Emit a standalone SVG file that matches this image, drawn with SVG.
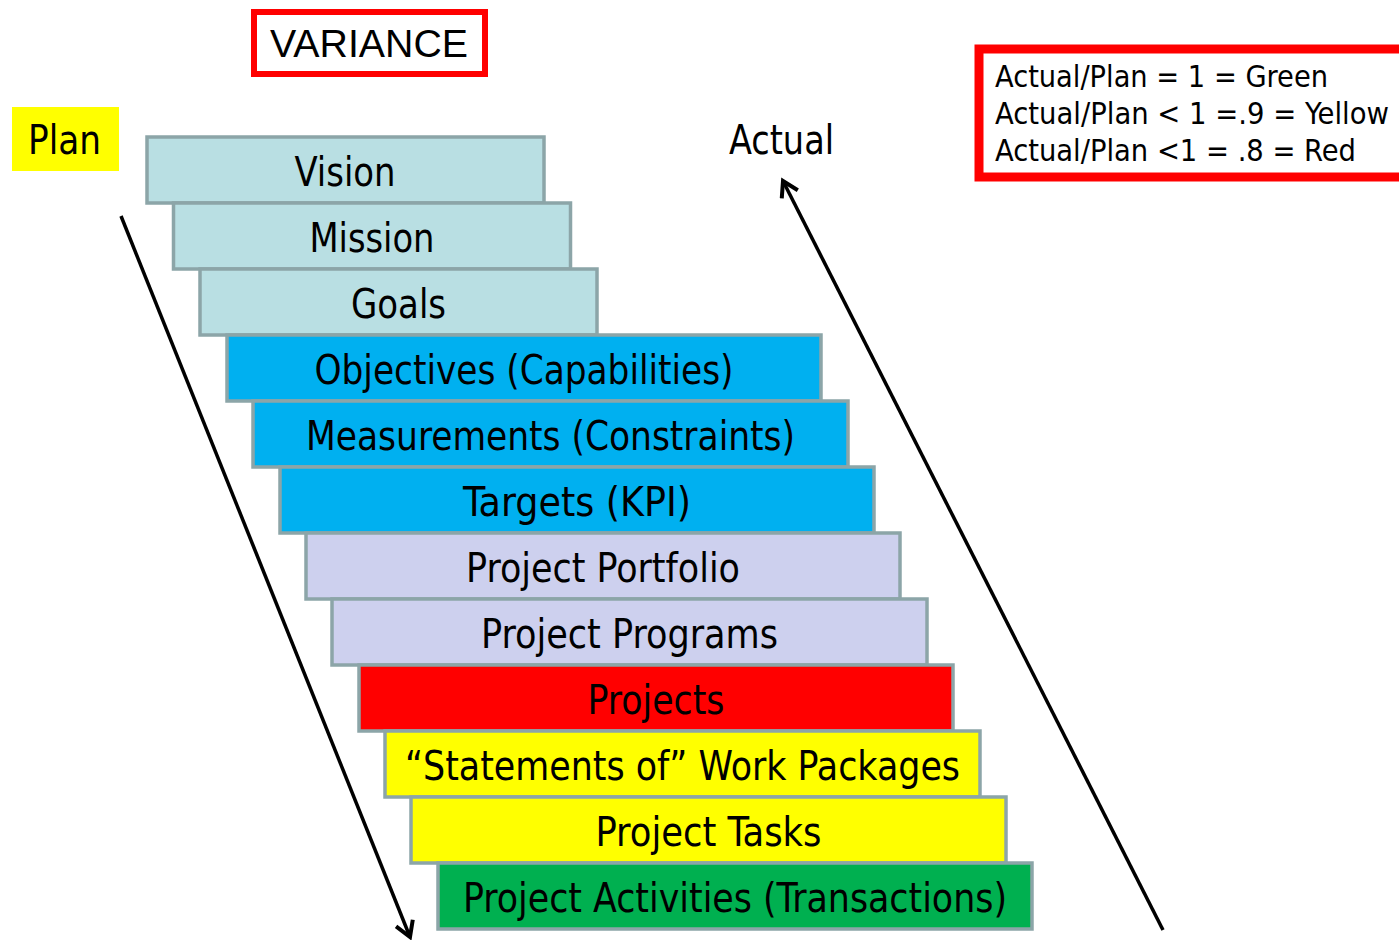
<svg xmlns="http://www.w3.org/2000/svg" width="1399" height="940" viewBox="0 0 1399 940">
<style>
.box{stroke:#8ca5a8;stroke-width:3.5}
.lbl{font-family:"DejaVu Sans Condensed","DejaVu Sans",sans-serif;font-size:40px;fill:#000;text-anchor:middle}
.leg{font-family:"DejaVu Sans Condensed","DejaVu Sans",sans-serif;font-size:31px;fill:#000}
.teal{fill:#b9dfe3}.cyan{fill:#00b0f0}.lav{fill:#cdd0ee}.red{fill:#ff0000}.yel{fill:#ffff00}.grn{fill:#00b050}
.arr{stroke:#000;stroke-width:3.5;fill:none}
</style>
<defs>
<marker id="chev" markerWidth="22" markerHeight="22" refX="17" refY="11" orient="auto" markerUnits="userSpaceOnUse" viewBox="0 0 22 22">
<path d="M2,2 L17,11 L2,20" fill="none" stroke="#000" stroke-width="4"/>
</marker>
</defs>
<rect width="1399" height="940" fill="#fff"/>
<g id="variance">
<rect x="254" y="12" width="231" height="62" fill="#fff" stroke="#ff0000" stroke-width="6"/>
<text x="369" y="57" font-family="Liberation Sans, Arial, sans-serif" font-size="39" text-anchor="middle" textLength="198" lengthAdjust="spacingAndGlyphs">VARIANCE</text>
</g>
<g id="plan">
<rect x="12" y="107" width="107" height="64" fill="#ffff00"/>
<text class="lbl" x="64.5" y="154" textLength="73" lengthAdjust="spacingAndGlyphs">Plan</text>
</g>
<g id="actual">
<text class="lbl" x="781.5" y="154" textLength="105" lengthAdjust="spacingAndGlyphs">Actual</text>
</g>
<g id="legend">
<rect x="979" y="49" width="440" height="128" fill="#fff" stroke="#ff0000" stroke-width="9"/>
<text class="leg" x="995" y="87" textLength="333" lengthAdjust="spacingAndGlyphs">Actual/Plan = 1 = Green</text>
<text class="leg" x="995" y="124" textLength="394" lengthAdjust="spacingAndGlyphs">Actual/Plan &lt; 1 =.9 = Yellow</text>
<text class="leg" x="995" y="161" textLength="361" lengthAdjust="spacingAndGlyphs">Actual/Plan &lt;1 = .8 = Red</text>
</g>
<g id="n1"><rect class="box teal" x="147" y="137" width="397" height="66"/><text class="lbl" x="345" y="186" textLength="101" lengthAdjust="spacingAndGlyphs">Vision</text></g>
<g id="n2"><rect class="box teal" x="173.5" y="203" width="397" height="66"/><text class="lbl" x="372" y="252" textLength="125" lengthAdjust="spacingAndGlyphs">Mission</text></g>
<g id="n3"><rect class="box teal" x="200" y="269" width="397" height="66"/><text class="lbl" x="398.5" y="318" textLength="95" lengthAdjust="spacingAndGlyphs">Goals</text></g>
<g id="n4"><rect class="box cyan" x="227" y="335" width="594" height="66"/><text class="lbl" x="524" y="384" textLength="419" lengthAdjust="spacingAndGlyphs">Objectives (Capabilities)</text></g>
<g id="n5"><rect class="box cyan" x="253" y="401" width="595" height="66"/><text class="lbl" x="550.5" y="450" textLength="489" lengthAdjust="spacingAndGlyphs">Measurements (Constraints)</text></g>
<g id="n6"><rect class="box cyan" x="280" y="467" width="594" height="66"/><text class="lbl" x="577" y="516" textLength="228" lengthAdjust="spacingAndGlyphs">Targets (KPI)</text></g>
<g id="n7"><rect class="box lav" x="306" y="533" width="594" height="66"/><text class="lbl" x="603" y="582" textLength="274" lengthAdjust="spacingAndGlyphs">Project Portfolio</text></g>
<g id="n8"><rect class="box lav" x="332" y="599" width="595" height="66"/><text class="lbl" x="629.5" y="648" textLength="297" lengthAdjust="spacingAndGlyphs">Project Programs</text></g>
<g id="n9"><rect class="box red" x="359" y="665" width="594" height="66"/><text class="lbl" x="656" y="714" textLength="137" lengthAdjust="spacingAndGlyphs">Projects</text></g>
<g id="n10"><rect class="box yel" x="385" y="731" width="595" height="66"/><text class="lbl" x="682.5" y="780" textLength="555" lengthAdjust="spacingAndGlyphs">“Statements of” Work Packages</text></g>
<g id="n11"><rect class="box yel" x="411" y="797" width="595" height="66"/><text class="lbl" x="708.5" y="846" textLength="226" lengthAdjust="spacingAndGlyphs">Project Tasks</text></g>
<g id="n12"><rect class="box grn" x="438" y="863" width="594" height="66"/><text class="lbl" x="735" y="912" textLength="544" lengthAdjust="spacingAndGlyphs">Project Activities (Transactions)</text></g>
<g id="connectors">
<line class="arr" x1="121" y1="216" x2="410" y2="937" marker-end="url(#chev)"/>
<line class="arr" x1="1163" y1="930" x2="783" y2="181" marker-end="url(#chev)"/>
</g>
</svg>
